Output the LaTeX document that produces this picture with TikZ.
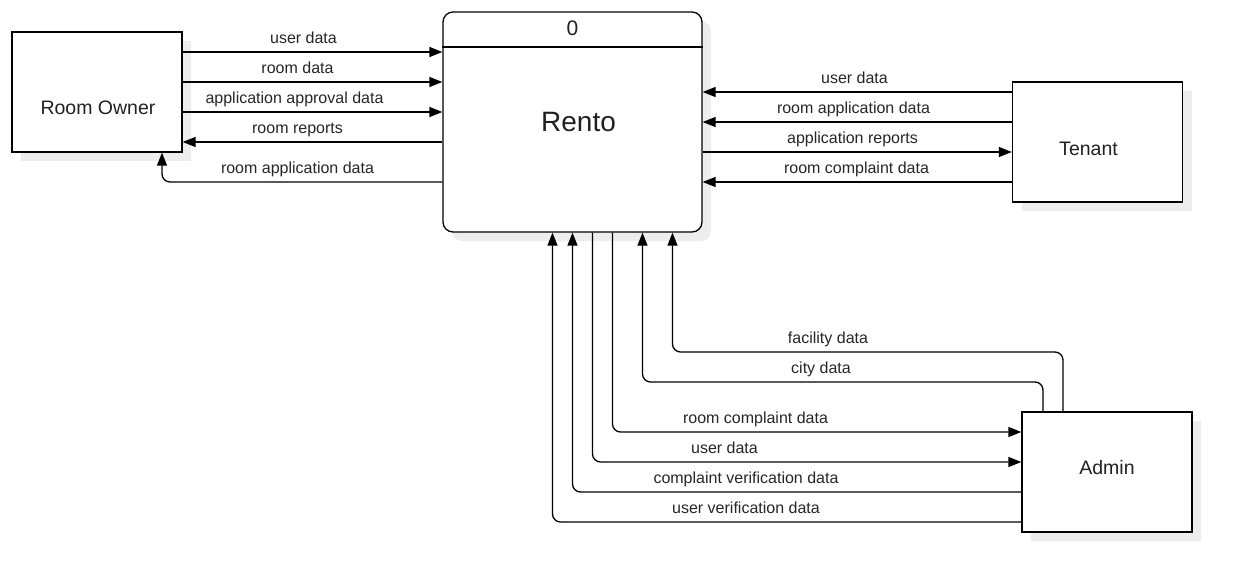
\documentclass[tikz,border=0pt]{standalone}
\usepackage{fontspec}
\setmainfont{Liberation Sans}
\usetikzlibrary{arrows.meta,shadows}
\begin{document}
\begin{tikzpicture}[x=1pt,y=-1pt,
  ent/.style={draw=black, line width=1.3pt, fill=white, inner sep=0pt,
    general shadow={fill=black!7, shadow xshift=9pt, shadow yshift=-9pt}},
  flow/.style={line width=1.3pt, rounded corners=8pt, -{Triangle[length=13pt,width=10pt]}},
  lbl/.style={font=\fontsize{16}{19}\selectfont, anchor=base, inner sep=0pt, text=black!85},
  etxt/.style={font=\fontsize{19.5}{23}\selectfont, anchor=base, inner sep=0pt, text=black!87}]
\useasboundingbox (0,0) rectangle (1242,582);
% entities
\node[ent, minimum width=170pt, minimum height=120pt] (owner) at (97,92) {};
\node[etxt] (ownerT) at (98,114) {Room Owner};
\node[ent, rounded corners=10pt, minimum width=259pt, minimum height=220pt] (rento) at (572.5,122) {};
\node[etxt, font=\fontsize{28}{32}\selectfont] (rentoT) at (578.5,131.7) {Rento};
\node[etxt, font=\fontsize{21}{25}\selectfont] (zero) at (572.5,35.7) {0};
\draw[line width=1.3pt] (rento.west |- 0,47) -- (rento.east |- 0,47);
\node[ent, minimum width=170pt, minimum height=120pt] (tenant) at (1097.5,142) {};
\node[etxt] (tenantT) at (1088.5,155) {Tenant};
\node[ent, minimum width=170pt, minimum height=120pt] (admin) at (1107,472) {};
\node[etxt] (adminT) at (1107,474) {Admin};
% room owner flows
\draw[flow] (owner.east |- 0,52) -- (rento.west |- 0,52);
\draw[flow] (owner.east |- 0,82) -- (rento.west |- 0,82);
\draw[flow] (owner.east |- 0,112) -- (rento.west |- 0,112);
\draw[flow] (rento.west |- 0,142) -- (owner.east |- 0,142);
\draw[flow] (rento.west |- 0,182) -| (owner.south -| 162,0);
\node[lbl] (l1) at (303.5,43) {user data};
\node[lbl] (l2) at (297.5,73) {room data};
\node[lbl] (l3) at (294.5,103) {application approval data};
\node[lbl] (l4) at (297.5,133) {room reports};
\node[lbl] (l5) at (297.5,173) {room application data};
% tenant flows
\draw[flow] (tenant.west |- 0,92) -- (rento.east |- 0,92);
\draw[flow] (tenant.west |- 0,122) -- (rento.east |- 0,122);
\draw[flow] (rento.east |- 0,152) -- (tenant.west |- 0,152);
\draw[flow] (tenant.west |- 0,182) -- (rento.east |- 0,182);
\node[lbl] (r1) at (854.5,83) {user data};
\node[lbl] (r2) at (853.5,113) {room application data};
\node[lbl] (r3) at (852.5,143) {application reports};
\node[lbl] (r4) at (856.5,173) {room complaint data};
% admin flows
\draw[flow] (admin.west |- 0,522) -| (rento.south -| 552.5,0);
\draw[flow] (admin.west |- 0,492) -| (rento.south -| 572.5,0);
\draw[flow] (rento.south -| 592.5,0) |- (admin.west |- 0,462);
\draw[flow] (rento.south -| 612.5,0) |- (admin.west |- 0,432);
\draw[flow] (admin.north -| 1043,0) |- (642.5,382) -- (rento.south -| 642.5,0);
\draw[flow] (admin.north -| 1063,0) |- (672.5,352) -- (rento.south -| 672.5,0);
\node[lbl] (b1) at (828,343) {facility data};
\node[lbl] (b2) at (821,373) {city data};
\node[lbl] (b3) at (755.5,423) {room complaint data};
\node[lbl] (b4) at (724.5,453) {user data};
\node[lbl] (b5) at (746,483) {complaint verification data};
\node[lbl] (b6) at (746,513) {user verification data};
\end{tikzpicture}
\end{document}
